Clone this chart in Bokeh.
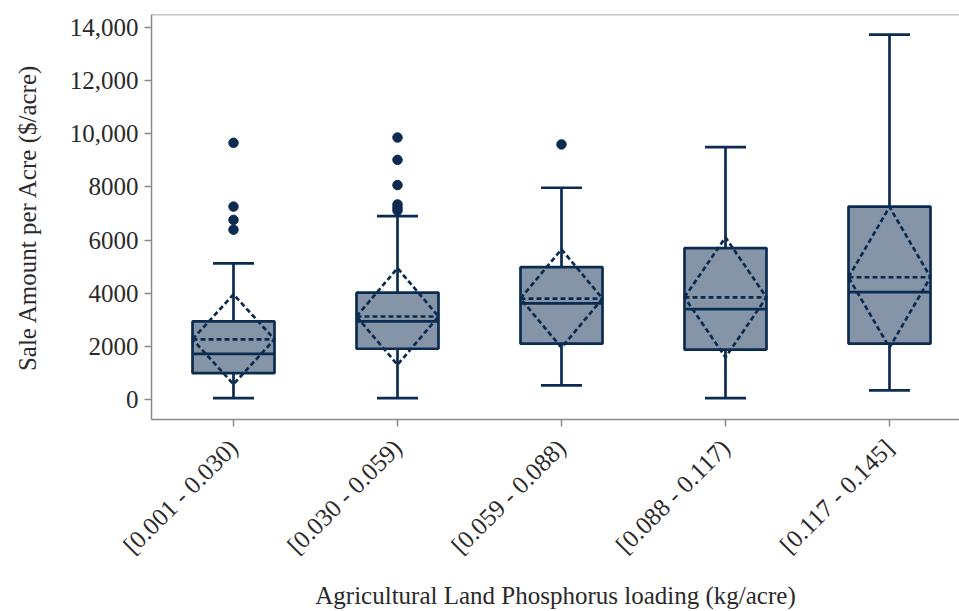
import numpy as np
from bokeh.plotting import figure
from bokeh.models import Range1d, FixedTicker, Span, ColumnDataSource
from bokeh.embed import file_html
from bokeh.resources import INLINE

# ---- data ----
categories = ["[0.001 - 0.030)", "[0.030 - 0.059)", "[0.059 - 0.088)",
              "[0.088 - 0.117)", "[0.117 - 0.145]"]
lower_fence = [50, 50, 530, 50, 340]
q1 = [990, 1910, 2100, 1880, 2100]
median = [1720, 2940, 3620, 3400, 4040]
q3 = [2940, 4020, 4980, 5700, 7260]
upper_fence = [5120, 6900, 7970, 9500, 13730]
mean = [2265, 3124, 3800, 3845, 4600]
sd = [1690, 1818, 1852, 2258, 2648]
outlier_cat = [0, 0, 0, 0, 1, 1, 1, 1, 1, 1, 2]
outlier_val = [9660, 7260, 6760, 6390, 9860, 9020, 8070, 7340, 7220, 7110, 9600]

y_ticks = [0, 2000, 4000, 6000, 8000, 10000, 12000, 14000]
y_tick_labels = ["0", "2000", "4000", "6000", "8000", "10,000", "12,000", "14,000"]
x_title = "Agricultural Land Phosphorus loading (kg/acre)"
y_title = "Sale Amount per Acre ($/acre)"

# ---- style ----
LINE = "#0b2c50"
AXIS = "#8a8a8a"
TEXT = "#2a2a2a"
FONT = "Liberation Serif"
FS = "25px"
BOX_W = 0.5
CAP_W = 0.25
DASH = "5 3"
LW = 2.7

x = np.arange(len(categories), dtype=float)
y_start, y_end = -753, 14490
W, H = 959, 611
LEFT, TOP, BOTTOM = 151, 14, 192
PX_PER_CAT = 164.0

p = figure(width=W, height=H, output_backend="svg", toolbar_location=None,
           x_range=Range1d(-0.5, -0.5 + (W - LEFT) / PX_PER_CAT),
           y_range=Range1d(y_start, y_end),
           min_border_left=LEFT, min_border_right=0, min_border_top=TOP,
           min_border_bottom=BOTTOM)
p.outline_line_color = None
p.grid.visible = False
p.background_fill_color = "white"
p.border_fill_color = "white"

src = ColumnDataSource(dict(x=x, lo=lower_fence, q1=q1, med=median, q3=q3,
                            hi=upper_fence, mean=mean, sd=sd))

# whiskers
p.segment(x0="x", x1="x", y0="q3", y1="hi", source=src, line_color=LINE, line_width=LW)
p.segment(x0="x", x1="x", y0="lo", y1="q1", source=src, line_color=LINE, line_width=LW)
p.segment(x0=x - CAP_W / 2, x1=x + CAP_W / 2, y0=upper_fence, y1=upper_fence,
          line_color=LINE, line_width=LW)
p.segment(x0=x - CAP_W / 2, x1=x + CAP_W / 2, y0=lower_fence, y1=lower_fence,
          line_color=LINE, line_width=LW)

# boxes
p.vbar(x="x", width=BOX_W, bottom="q1", top="q3", source=src,
       fill_color=LINE, fill_alpha=0.5, line_color=LINE, line_width=LW)
# median
p.segment(x0=x - BOX_W / 2, x1=x + BOX_W / 2, y0=median, y1=median,
          line_color=LINE, line_width=LW)
# mean
p.segment(x0=x - BOX_W / 2, x1=x + BOX_W / 2, y0=mean, y1=mean,
          line_color=LINE, line_width=LW, line_dash=DASH)
# sd diamonds
m = np.array(mean, dtype=float)
s = np.array(sd, dtype=float)
xs = [[xi - BOX_W / 2, xi, xi + BOX_W / 2, xi, xi - BOX_W / 2] for xi in x]
ys = [[mi, mi + si, mi, mi - si, mi] for mi, si in zip(m, s)]
p.patches(xs, ys, fill_color=None, line_color=LINE, line_width=LW, line_dash=DASH)

# outliers
p.scatter(x=[x[i] for i in outlier_cat], y=outlier_val, size=9.5,
          fill_color=LINE, line_color=LINE)

# top border
p.add_layout(Span(location=y_end, dimension="width", line_color=AXIS, line_width=1.5))

# axes
for ax in (p.xaxis[0], p.yaxis[0]):
    ax.axis_line_color = AXIS
    ax.axis_line_width = 1.5
    ax.major_tick_line_color = AXIS
    ax.major_tick_line_width = 1.5
    ax.major_tick_out = 7
    ax.major_tick_in = 0
    ax.minor_tick_line_color = None
    ax.major_label_text_font = FONT
    ax.major_label_text_font_size = FS
    ax.major_label_text_color = TEXT
    ax.axis_label_text_font = FONT
    ax.axis_label_text_font_size = FS
    ax.axis_label_text_color = TEXT
    ax.axis_label_text_font_style = "normal"

p.xaxis.ticker = FixedTicker(ticks=list(x))
p.xaxis.major_label_overrides = {float(i): c for i, c in zip(x, categories)}
p.xaxis.major_label_orientation = np.pi / 4
p.xaxis.major_label_standoff = 17
p.xaxis.axis_label = x_title
p.xaxis.axis_label_standoff = 10

p.yaxis.ticker = FixedTicker(ticks=y_ticks)
p.yaxis.major_label_overrides = {t: l for t, l in zip(y_ticks, y_tick_labels)}
p.yaxis.major_label_standoff = 6
p.yaxis.axis_label = y_title
p.yaxis.axis_label_standoff = 26

open("out.html", "w").write(file_html(p, INLINE))
